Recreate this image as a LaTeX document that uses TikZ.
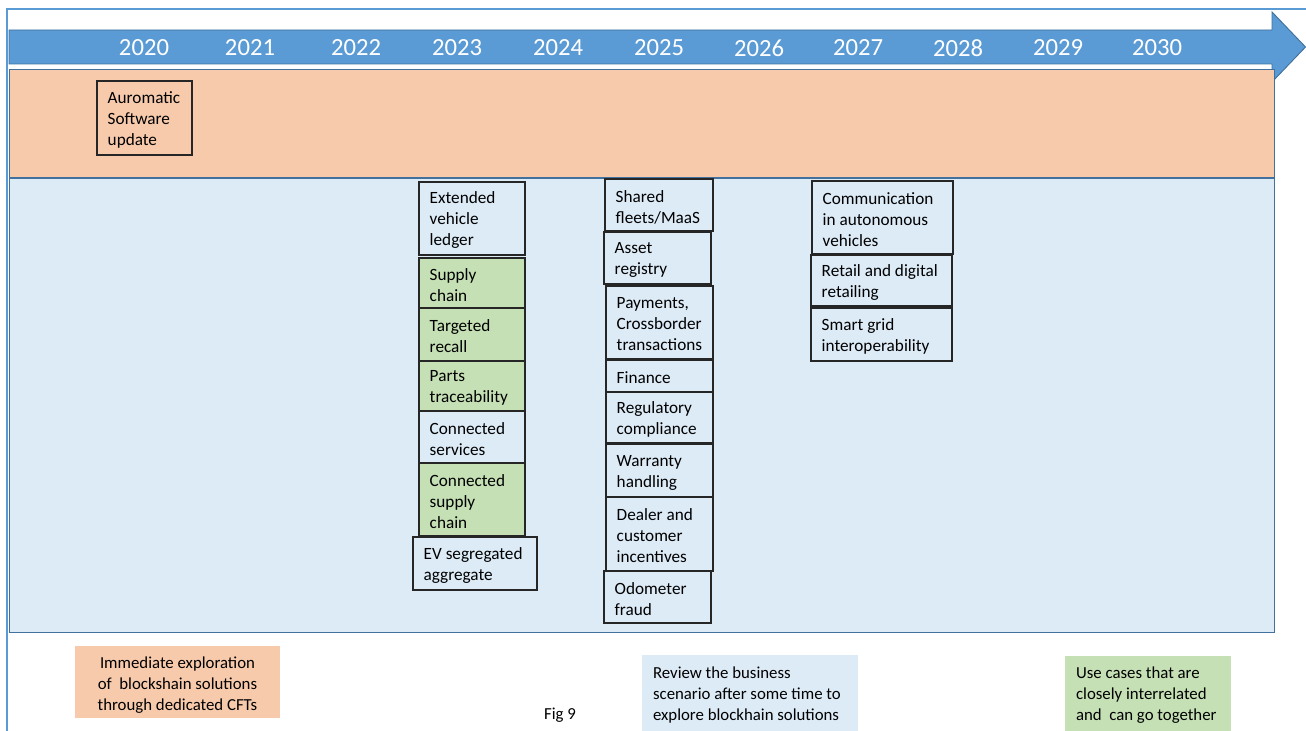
\documentclass[tikz,border=0pt]{standalone}
\usepackage{fontspec}
\setmainfont{Carlito}
\usetikzlibrary{fit}
\definecolor{arrowblue}{HTML}{5B9BD5}
\definecolor{edgeblue}{HTML}{41719C}
\definecolor{orangefill}{HTML}{F7CAAC}
\definecolor{bluefill}{HTML}{DDEBF7}
\definecolor{greenfill}{HTML}{C5E0B4}
\tikzset{
  band/.style={draw=edgeblue, line width=0.7pt},
  ubox/.style={draw=black!85, line width=0.9pt, inner sep=0pt},
  utext/.style={anchor=west, align=left, inner sep=0pt, font=\fontsize{12.9}{15.75}\selectfont},
  year/.style={text=white, inner sep=0pt, font=\fontsize{18.5}{22}\selectfont},
  legend/.style={inner sep=0pt, font=\fontsize{12.6}{15.75}\selectfont},
}
\newcommand\ucbox[7]{%
  \node[ubox, fill=#6, fit={(#2,#3) (#4,#5)}] (#1) {};
  \node[utext] (#1t) at ([xshift=8.3pt,yshift=-1.5pt]#1.west) {#7};
}
\begin{document}
\begin{tikzpicture}[x=0.75pt,y=-0.75pt]
\useasboundingbox (0,0) rectangle (1306,731);
% outer frame
\draw[arrowblue, line width=1pt] (7,731) -- (7,9) -- (1306,9);
% timeline arrow
\fill[arrowblue, draw=edgeblue, line width=0.7pt]
  (9,30) -- (1272,30) -- (1272,12) -- (1305.5,47) -- (1272,82) -- (1272,64) -- (9,64) -- cycle;
\foreach \yr/\xx in {2020/144,2021/250,2022/356,2023/457,2024/558,2025/659,2026/759,2027/858,2028/958,2029/1058,2030/1157}
  \node[year] (y\yr) at (\xx,48) {\yr};
% bands
\node[band, fill=orangefill, inner sep=0pt, fit={(9,69) (1274,177)}] (bandA) {};
\node[band, fill=bluefill, inner sep=0pt, fit={(9,178) (1274,632)}] (bandB) {};
% 2020
\ucbox{asu}{97}{81}{192}{155}{orangefill}{Auromatic\\Software\\update}
% 2023 column
\ucbox{evl}{419}{182}{525}{255}{bluefill}{Extended\\vehicle\\ledger}
\ucbox{sc}{419}{258}{525}{308}{greenfill}{Supply\\chain}
\ucbox{tr}{419}{308}{525}{361}{greenfill}{Targeted\\recall}
\ucbox{pt}{419}{361}{525}{411}{greenfill}{Parts\\traceability}
\ucbox{cs}{419}{411}{525}{463}{bluefill}{Connected\\services}
\ucbox{csc}{419}{463}{525}{536}{greenfill}{Connected\\supply\\chain}
\ucbox{ev}{413}{537}{537}{590}{bluefill}{EV segregated\\aggregate}
% 2025 column
\ucbox{sf}{605}{179}{713}{231}{bluefill}{Shared\\fleets/MaaS}
\ucbox{ar}{604}{232}{711}{284}{bluefill}{Asset\\registry}
\ucbox{pay}{606}{286}{713}{359}{bluefill}{Payments,\\Crossborder\\transactions}
\ucbox{fin}{606}{360}{713}{392}{bluefill}{Finance}
\ucbox{rc}{606}{392}{713}{443}{bluefill}{Regulatory\\compliance}
\ucbox{wh}{606}{444}{713}{497}{bluefill}{Warranty\\handling}
\ucbox{dci}{606}{497}{713}{571}{bluefill}{Dealer and\\customer\\incentives}
\ucbox{of}{604}{571}{711}{623}{bluefill}{Odometer\\fraud}
% 2027 column
\ucbox{cav}{812}{181}{953}{254}{bluefill}{Communication\\in autonomous\\vehicles}
\ucbox{rdr}{811}{255}{952}{306}{bluefill}{Retail and digital\\retailing}
\ucbox{sgi}{811}{308}{952}{361}{bluefill}{Smart grid\\interoperability}
% legend
\node[fill=orangefill, inner sep=0pt, fit={(75,646) (280,718)}] (lgA) {};
\node[legend, align=center] (lgAt) at ([yshift=-2pt]lgA.center) {Immediate exploration\\of\ \ blockshain solutions\\through dedicated CFTs};
\node[fill=bluefill, inner sep=0pt, fit={(642,655) (858,731)}] (lgB) {};
\node[legend, align=left, anchor=west] (lgBt) at ([xshift=8.3pt,yshift=-1.5pt]lgB.west) {Review the business\\scenario after some time to\\explore blockhain solutions};
\node[fill=greenfill, inner sep=0pt, fit={(1065,656) (1231,731)}] (lgC) {};
\node[legend, align=left, anchor=west] (lgCt) at ([xshift=8.3pt,yshift=-1.5pt]lgC.west) {Use\ cases that are\\closely interrelated\\and\ \ can go together};
\node[legend] (fig) at (560,715) {Fig 9};
\end{tikzpicture}
\end{document}
